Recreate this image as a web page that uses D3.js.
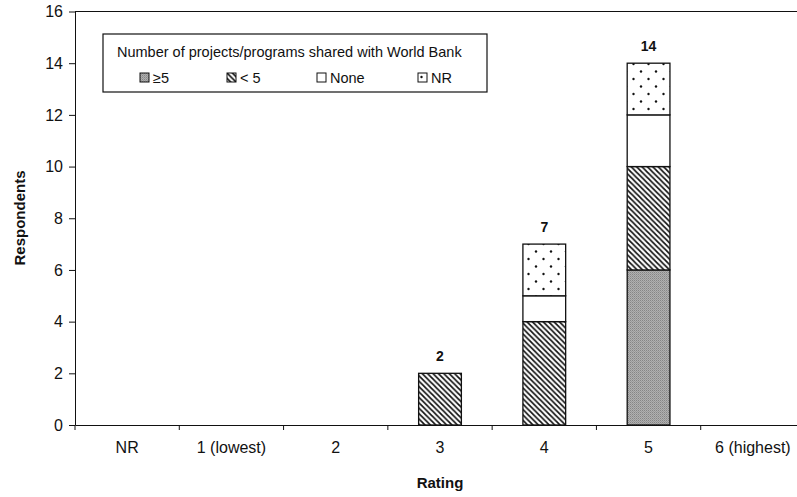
<!DOCTYPE html>
<html>
<head>
<meta charset="utf-8">
<script src="https://cdn.jsdelivr.net/npm/d3@7"></script>
<style>
  html, body { margin: 0; padding: 0; background: #fff; }
  svg { display: block; font-family: Arial, "Liberation Sans", sans-serif; }
</style>
</head>
<body>
<svg id="chart" width="797" height="497"></svg>
<script>
// Rating categories along the x axis
const categories = ["NR", "1 (lowest)", "2", "3", "4", "5", "6 (highest)"];
// Respondents per rating, split by number of projects/programs shared with World Bank
const gte5 = [0, 0, 0, 0, 0, 6, 0];
const lt5  = [0, 0, 0, 2, 4, 4, 0];
const none = [0, 0, 0, 0, 1, 2, 0];
const nr   = [0, 0, 0, 0, 2, 2, 0];
const yTicks = [0, 2, 4, 6, 8, 10, 12, 14, 16];

const seriesKeys = ["gte5", "lt5", "none", "nr"];
const seriesLabels = ["\u22655", "< 5", "None", "NR"];
const seriesFill = ["url(#pGte5)", "url(#pLt5)", "#fff", "url(#pNr)"];

const rows = categories.map((c, i) => ({
  cat: c, gte5: gte5[i], lt5: lt5[i], none: none[i], nr: nr[i]
}));

const svg = d3.select("#chart");
const plotL = 75, plotR = 805, plotT = 11.5, plotB = 425;

const x = d3.scaleBand().domain(categories).range([plotL, plotR]).padding(0);
const y = d3.scaleLinear().domain([0, 16]).range([plotB, plotT]);
const barW = x.bandwidth() * 0.41;

// fill patterns
const defs = svg.append("defs");
const pg = defs.append("pattern").attr("id", "pGte5")
  .attr("patternUnits", "userSpaceOnUse").attr("width", 2).attr("height", 2);
pg.append("rect").attr("width", 2).attr("height", 2).attr("fill", "#b0b0b0");
pg.append("rect").attr("width", 1).attr("height", 1).attr("fill", "#858585");
pg.append("rect").attr("x", 1).attr("y", 1).attr("width", 1).attr("height", 1).attr("fill", "#999");

const s = 5.4;
const pl = defs.append("pattern").attr("id", "pLt5")
  .attr("patternUnits", "userSpaceOnUse").attr("width", s).attr("height", s);
pl.append("rect").attr("width", s).attr("height", s).attr("fill", "#fff");
pl.append("path")
  .attr("d", `M0,0L${s},${s}M${-s/2},${s/2}L${s/2},${s*1.5}M${s/2},${-s/2}L${s*1.5},${s/2}`)
  .attr("stroke", "#111").attr("stroke-width", 1.7);

const pn = defs.append("pattern").attr("id", "pNr")
  .attr("patternUnits", "userSpaceOnUse").attr("width", 15).attr("height", 15);
pn.append("rect").attr("width", 15).attr("height", 15).attr("fill", "#fff");
pn.append("circle").attr("cx", 3.5).attr("cy", 4).attr("r", 1.2).attr("fill", "#111");
pn.append("circle").attr("cx", 11).attr("cy", 11.5).attr("r", 1.2).attr("fill", "#111");

// plot frame: top edge
svg.append("line").attr("x1", plotL).attr("x2", plotR).attr("y1", plotT).attr("y2", plotT)
  .attr("stroke", "#111").attr("stroke-width", 1);

// stacked bars
const stack = d3.stack().keys(seriesKeys)(rows);
svg.append("g").selectAll("g").data(stack).join("g")
  .attr("fill", (d, i) => seriesFill[i])
  .selectAll("rect").data(d => d.filter(v => v[1] - v[0] > 0)).join("rect")
  .attr("x", d => x(d.data.cat) + (x.bandwidth() - barW) / 2)
  .attr("y", d => y(d[1]))
  .attr("width", barW)
  .attr("height", d => y(d[0]) - y(d[1]))
  .attr("stroke", "#111").attr("stroke-width", 1.3);

// totals above bars
const totals = categories.map((c, i) => ({ cat: c, v: gte5[i] + lt5[i] + none[i] + nr[i] }));
svg.append("g").selectAll("text").data(totals.filter(d => d.v > 0)).join("text")
  .attr("x", d => x(d.cat) + x.bandwidth() / 2)
  .attr("y", d => y(d.v) - 12)
  .attr("text-anchor", "middle").attr("font-weight", "bold").attr("font-size", 14)
  .attr("fill", "#111").text(d => d.v);

// y axis
const gy = svg.append("g").attr("transform", `translate(${plotL},0)`)
  .call(d3.axisLeft(y).tickValues(yTicks).tickSize(6).tickPadding(6).tickSizeOuter(0));
gy.selectAll("text").attr("font-size", 16).attr("fill", "#111").attr("font-family", null);
gy.selectAll("line,path").attr("stroke", "#111");

// x axis: labels centred in bands, ticks on band boundaries
const gx = svg.append("g").attr("transform", `translate(0,${plotB})`)
  .call(d3.axisBottom(x).tickSize(0).tickPadding(17).tickSizeOuter(0));
gx.selectAll("text").attr("font-size", 16).attr("fill", "#111").attr("font-family", null);
gx.select("path").attr("stroke", "#111");
gx.selectAll(".bound").data(categories).join("line").attr("class", "bound")
  .attr("x1", d => x(d)).attr("x2", d => x(d)).attr("y1", 0).attr("y2", 5)
  .attr("stroke", "#111");

// axis titles
svg.append("text").attr("transform", "translate(25,218) rotate(-90)")
  .attr("text-anchor", "middle").attr("font-weight", "bold").attr("font-size", 15)
  .attr("fill", "#111").text("Respondents");
svg.append("text").attr("x", 440).attr("y", 488)
  .attr("text-anchor", "middle").attr("font-weight", "bold").attr("font-size", 15)
  .attr("fill", "#111").text("Rating");

// legend
const lg = svg.append("g").attr("transform", "translate(103,34)");
lg.append("rect").attr("width", 384).attr("height", 58)
  .attr("fill", "#fff").attr("stroke", "#111").attr("stroke-width", 1.2);
lg.append("text").attr("x", 14).attr("y", 23).attr("font-size", 14.5).attr("fill", "#111")
  .text("Number of projects/programs shared with World Bank");
const itemX = [37, 124, 214, 315];
const items = lg.selectAll(".item").data(seriesLabels).join("g").attr("class", "item")
  .attr("transform", (d, i) => `translate(${itemX[i]},39)`);
items.append("rect").attr("width", 9).attr("height", 9)
  .attr("fill", (d, i) => seriesFill[i]).attr("stroke", "#111").attr("stroke-width", 1);
items.append("text").attr("x", 13).attr("y", 10).attr("font-size", 14.5).attr("fill", "#111")
  .text(d => d);
</script>
</body>
</html>
